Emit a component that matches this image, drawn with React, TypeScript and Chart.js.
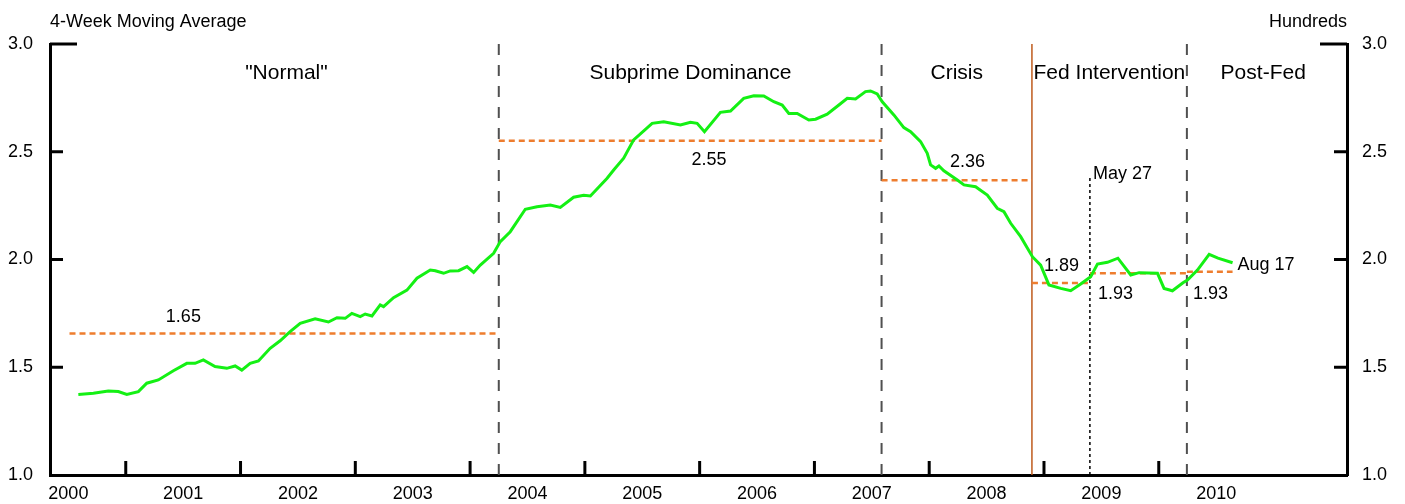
import React, { useEffect, useRef } from 'react';
import { Chart, registerables } from 'chart.js';

Chart.register(...registerables);

// ---- data ----
const weekDates = [
  2000.587, 2000.718, 2000.848, 2000.935, 2001.009, 2001.110, 2001.183, 2001.284, 2001.415, 2001.532,
  2001.604, 2001.676, 2001.778, 2001.880, 2001.953, 2002.011, 2002.084, 2002.156, 2002.258, 2002.345,
  2002.432, 2002.520, 2002.650, 2002.766, 2002.840, 2002.912, 2002.970, 2003.043, 2003.086, 2003.145,
  2003.217, 2003.246, 2003.333, 2003.450, 2003.537, 2003.653, 2003.697, 2003.769, 2003.827, 2003.900,
  2003.973, 2004.031, 2004.089, 2004.205, 2004.263, 2004.350, 2004.481, 2004.583, 2004.699, 2004.786,
  2004.902, 2004.990, 2005.048, 2005.194, 2005.251, 2005.338, 2005.425, 2005.586, 2005.687, 2005.833,
  2005.920, 2005.978, 2006.042, 2006.181, 2006.269, 2006.384, 2006.472, 2006.559, 2006.646, 2006.719,
  2006.777, 2006.850, 2006.951, 2007.010, 2007.111, 2007.213, 2007.286, 2007.358, 2007.445, 2007.489,
  2007.547, 2007.591, 2007.692, 2007.779, 2007.838, 2007.925, 2007.983, 2008.012, 2008.056, 2008.085,
  2008.128, 2008.245, 2008.303, 2008.404, 2008.506, 2008.593, 2008.651, 2008.710, 2008.797, 2008.899,
  2008.971, 2009.043, 2009.146, 2009.233, 2009.320, 2009.407, 2009.466, 2009.553, 2009.644, 2009.756,
  2009.829, 2009.989, 2010.046, 2010.119, 2010.211, 2010.250, 2010.337, 2010.439, 2010.516, 2010.643,
];
const movingAverage = [
  1.374, 1.379, 1.390, 1.387, 1.374, 1.387, 1.426, 1.441, 1.484, 1.518,
  1.518, 1.534, 1.503, 1.495, 1.506, 1.487, 1.518, 1.529, 1.588, 1.623,
  1.665, 1.704, 1.725, 1.710, 1.730, 1.727, 1.750, 1.735, 1.747, 1.738,
  1.789, 1.781, 1.823, 1.858, 1.913, 1.951, 1.948, 1.936, 1.947, 1.948,
  1.967, 1.940, 1.974, 2.029, 2.083, 2.129, 2.233, 2.245, 2.253, 2.242,
  2.289, 2.298, 2.295, 2.377, 2.415, 2.470, 2.555, 2.632, 2.639, 2.624,
  2.637, 2.632, 2.593, 2.683, 2.689, 2.748, 2.760, 2.759, 2.732, 2.717,
  2.678, 2.678, 2.647, 2.651, 2.674, 2.717, 2.748, 2.745, 2.779, 2.782,
  2.768, 2.732, 2.671, 2.612, 2.593, 2.547, 2.493, 2.439, 2.423, 2.434,
  2.412, 2.369, 2.346, 2.338, 2.299, 2.238, 2.222, 2.168, 2.106, 2.013,
  1.974, 1.882, 1.866, 1.855, 1.886, 1.920, 1.979, 1.987, 2.006, 1.928,
  1.939, 1.936, 1.866, 1.855, 1.892, 1.905, 1.951, 2.024, 2.006, 1.985,
];

const periodNames = ['"Normal"', 'Subprime Dominance', 'Crisis', 'Fed Intervention', 'Post-Fed'];
const periodLabelCenters = [2002.40, 2005.92, 2008.24, 2009.57, 2010.91];

const meanStarts = [2000.51, 2004.25, 2007.585, 2008.895, 2009.40, 2010.245];
const meanEnds = [2004.25, 2007.585, 2008.895, 2009.40, 2010.245, 2010.643];
const meanValues = [1.657, 2.551, 2.368, 1.891, 1.936, 1.943];
const meanLabels = ['1.65', '2.55', '2.36', '1.89', '1.93', '1.93'];

const regimeBreaks = [2004.25, 2007.585, 2010.245];
const fedStart = 2008.895;
const may27 = 2009.40;
const may27Top = 2.392;
const eventLabels = ['May 27', 'Aug 17'];

const yearLabels = ['2000', '2001', '2002', '2003', '2004', '2005', '2006', '2007', '2008', '2009', '2010'];
const yearBoundaries = [2001, 2002, 2003, 2004, 2005, 2006, 2007, 2008, 2009, 2010];
const yTickValues = [1.0, 1.5, 2.0, 2.5, 3.0];

const X_MIN = 2000.34;
const X_MAX = 2011.64;
const FONT = '"Liberation Sans", Arial, Helvetica, sans-serif';
const ORANGE = '#EE7D2E';
const GREEN = '#14F014';

// label placement: [align, xYear, pixel offset from mean line]
const meanLabelPlacement: [CanvasTextAlign, number, number][] = [
  ['center', 2001.502, -11],
  ['center', 2006.082, 24],
  ['center', 2008.334, -13],
  ['left', 2009.0, -12],
  ['left', 2009.471, 26],
  ['left', 2010.299, 27],
];

const overlayPlugin = {
  id: 'overlay',
  afterDraw(chart: any) {
    const { ctx, chartArea: a } = chart;
    const x = chart.scales.x;
    const y = chart.scales.y;
    ctx.save();
    const seg = (x1: number, y1: number, x2: number, y2: number) => {
      ctx.beginPath();
      ctx.moveTo(x1, y1);
      ctx.lineTo(x2, y2);
      ctx.stroke();
    };
    ctx.strokeStyle = '#000';
    ctx.lineWidth = 3;
    ctx.setLineDash([]);
    yTickValues.forEach((v, i) => {
      if (i === 0) return;
      const py = y.getPixelForValue(v);
      const len = i === yTickValues.length - 1 ? 27 : 13;
      seg(a.left, py, a.left + len, py);
      seg(a.right, py, a.right - len, py);
    });
    yearBoundaries.forEach((yr) => {
      const px = x.getPixelForValue(yr);
      seg(px, a.bottom, px, a.bottom - 14);
    });

    ctx.fillStyle = '#000';
    ctx.textBaseline = 'alphabetic';
    ctx.font = `18px ${FONT}`;
    ctx.textAlign = 'left';
    ctx.fillText('4-Week Moving Average', a.left, 27);
    ctx.textAlign = 'right';
    ctx.fillText('Hundreds', a.right, 27);

    ctx.font = `21px ${FONT}`;
    ctx.textAlign = 'center';
    periodNames.forEach((n, i) => {
      ctx.fillText(n, x.getPixelForValue(periodLabelCenters[i]), a.top + 35);
    });

    ctx.font = `18px ${FONT}`;
    meanLabels.forEach((t, i) => {
      const [align, xr, dy] = meanLabelPlacement[i];
      ctx.textAlign = align;
      ctx.fillText(t, x.getPixelForValue(xr), y.getPixelForValue(meanValues[i]) + dy);
    });

    ctx.textAlign = 'left';
    ctx.fillText(eventLabels[0], x.getPixelForValue(may27) + 3, y.getPixelForValue(may27Top) + 4);
    const last = movingAverage.length - 1;
    ctx.fillText(eventLabels[1], x.getPixelForValue(weekDates[last]) + 5, y.getPixelForValue(movingAverage[last]) + 7);
    ctx.restore();
  },
};

export default function App() {
  const ref = useRef<HTMLCanvasElement | null>(null);
  useEffect(() => {
    if (!ref.current) return;
    const base = { showLine: true, pointRadius: 0, pointHoverRadius: 0, fill: false };
    const datasets: any[] = [
      {
        ...base,
        data: weekDates.map((d, i) => ({ x: d, y: movingAverage[i] })),
        borderColor: GREEN,
        borderWidth: 3,
        tension: 0,
      },
    ];
    meanValues.forEach((v, i) => {
      datasets.push({
        ...base,
        data: [{ x: meanStarts[i], y: v }, { x: meanEnds[i], y: v }],
        borderColor: ORANGE,
        borderWidth: 2.5,
        borderDash: [6, 4],
      });
    });
    regimeBreaks.forEach((b) => {
      datasets.push({
        ...base,
        data: [{ x: b, y: 1 }, { x: b, y: 3 }],
        borderColor: '#505050',
        borderWidth: 2,
        borderDash: [11, 10],
      });
    });
    datasets.push({
      ...base,
      data: [{ x: fedStart, y: 1 }, { x: fedStart, y: 3 }],
      borderColor: '#BF5B1C',
      borderWidth: 1.5,
    });
    datasets.push({
      ...base,
      data: [{ x: may27, y: 1 }, { x: may27, y: may27Top }],
      borderColor: '#000',
      borderWidth: 1.5,
      borderDash: [3, 3],
    });

    const tickFont = { family: FONT, size: 18 };
    const chart = new Chart(ref.current, {
      type: 'scatter',
      data: { datasets },
      plugins: [overlayPlugin],
      options: {
        animation: false,
        responsive: false,
        events: [],
        layout: { padding: { top: 44, left: 0, right: 0, bottom: 0 } },
        plugins: { legend: { display: false }, tooltip: { enabled: false } },
        scales: {
          x: {
            type: 'linear',
            min: X_MIN,
            max: X_MAX,
            position: 'bottom',
            grid: { display: false, drawTicks: false },
            border: { display: true, color: '#000', width: 3 },
            afterBuildTicks: (scale: any) => {
              scale.ticks = yearLabels.map((_, i) => ({ value: 2000.5 + i }));
            },
            afterFit: (scale: any) => {
              scale.height = 29;
            },
            ticks: {
              autoSkip: false,
              maxRotation: 0,
              minRotation: 0,
              padding: 8,
              color: '#000',
              font: tickFont,
              callback: (_v: any, i: number) => yearLabels[i],
            },
          },
          y: {
            type: 'linear',
            min: 1,
            max: 3,
            position: 'left',
            grid: { display: false, drawTicks: false },
            border: { display: true, color: '#000', width: 3 },
            afterFit: (scale: any) => {
              scale.width = 50;
            },
            ticks: {
              stepSize: 0.5,
              padding: 17,
              color: '#000',
              font: tickFont,
              callback: (v: any) => Number(v).toFixed(1),
            },
          },
          y2: {
            type: 'linear',
            min: 1,
            max: 3,
            position: 'right',
            grid: { display: false, drawTicks: false },
            border: { display: true, color: '#000', width: 3 },
            afterFit: (scale: any) => {
              scale.width = 58;
            },
            ticks: {
              stepSize: 0.5,
              padding: 15,
              color: '#000',
              font: tickFont,
              callback: (v: any) => Number(v).toFixed(1),
            },
          },
        },
      } as any,
    });
    return () => chart.destroy();
  }, []);

  return (
    <div style={{ position: 'absolute', left: 0, top: 0, width: 1405, height: 504, background: '#fff' }}>
      <canvas ref={ref} width={1405} height={504} style={{ display: 'block' }} />
    </div>
  );
}
